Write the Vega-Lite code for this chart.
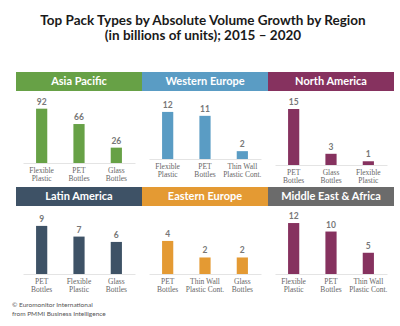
{
  "$schema": "https://vega.github.io/schema/vega-lite/v6.json",
  "padding": {"left": 12, "top": 13, "right": 10, "bottom": 4},
  "background": "white",
  "config": {
    "view": {"stroke": null},
    "axisX": {
      "title": null,
      "labelExpr": "split(datum.value, '|')",
      "labelAngle": 0,
      "ticks": false,
      "labelPadding": 3,
      "domainColor": "#e4e4e4",
      "domainWidth": 1,
      "labelFont": "Liberation Sans Narrow",
      "labelFontSize": 7.5,
      "labelColor": "#666666",
      "labelLineHeight": 8.5,
      "labelBaseline": "top"
    },
    "text": {"font": "Lato"}
  },
  "datasets": {
    "growth": [
      {"region": "Asia Pacific", "pack": "Flexible|Plastic", "value": 92},
      {"region": "Asia Pacific", "pack": "PET|Bottles", "value": 66},
      {"region": "Asia Pacific", "pack": "Glass|Bottles", "value": 26},
      {"region": "Western Europe", "pack": "Flexible|Plastic", "value": 12},
      {"region": "Western Europe", "pack": "PET|Bottles", "value": 11},
      {"region": "Western Europe", "pack": "Thin Wall|Plastic Cont.", "value": 2},
      {"region": "North America", "pack": "PET|Bottles", "value": 15},
      {"region": "North America", "pack": "Glass|Bottles", "value": 3},
      {"region": "North America", "pack": "Flexible|Plastic", "value": 1},
      {"region": "Latin America", "pack": "PET|Bottles", "value": 9},
      {"region": "Latin America", "pack": "Flexible|Plastic", "value": 7},
      {"region": "Latin America", "pack": "Glass|Bottles", "value": 6},
      {"region": "Eastern Europe", "pack": "PET|Bottles", "value": 4},
      {"region": "Eastern Europe", "pack": "Thin Wall|Plastic Cont.", "value": 2},
      {"region": "Eastern Europe", "pack": "Glass|Bottles", "value": 2},
      {"region": "Middle East & Africa", "pack": "Flexible|Plastic", "value": 12},
      {"region": "Middle East & Africa", "pack": "PET|Bottles", "value": 10},
      {"region": "Middle East & Africa", "pack": "Thin Wall|Plastic Cont.", "value": 5}
    ]
  },
  "title": {
    "text": ["Top Pack Types by Absolute Volume Growth by Region", "(in billions of units); 2015 – 2020"],
    "font": "Lato",
    "fontSize": 13.5,
    "fontWeight": "bold",
    "lineHeight": 15,
    "color": "#1a1a1a",
    "anchor": "middle",
    "offset": 30
  },
  "vconcat": [
    {
      "hconcat": [
        {
          "vconcat": [
            {"width": 126, "height": 19, "view": {"fill": "#67a146", "stroke": null}, "data": {"values": [{"region": "Asia Pacific"}]}, "mark": {"type": "text", "color": "white", "fontWeight": "bold", "fontSize": 11}, "encoding": {"text": {"field": "region"}}},
            {"width": 112, "height": 62, "data": {"name": "growth"}, "transform": [{"filter": "datum.region === 'Asia Pacific'"}],
             "encoding": {"x": {"field": "pack", "type": "nominal", "sort": null, "scale": {"paddingInner": 0.7, "paddingOuter": 0.35}}, "y": {"field": "value", "type": "quantitative", "axis": null, "scale": {"domain": [0, 105]}}},
             "layer": [{"mark": {"type": "bar", "color": "#67a146"}}, {"mark": {"type": "text", "dy": -2, "baseline": "bottom", "fontWeight": "bold", "fontSize": 8.5, "color": "#777777"}, "encoding": {"text": {"field": "value"}}}]}
          ],
          "spacing": 6, "center": true
        },
        {
          "vconcat": [
            {"width": 126, "height": 19, "view": {"fill": "#5a9cc4", "stroke": null}, "data": {"values": [{"region": "Western Europe"}]}, "mark": {"type": "text", "color": "white", "fontWeight": "bold", "fontSize": 11}, "encoding": {"text": {"field": "region"}}},
            {"width": 112, "height": 62, "data": {"name": "growth"}, "transform": [{"filter": "datum.region === 'Western Europe'"}],
             "encoding": {"x": {"field": "pack", "type": "nominal", "sort": null, "scale": {"paddingInner": 0.7, "paddingOuter": 0.35}}, "y": {"field": "value", "type": "quantitative", "axis": null, "scale": {"domain": [0, 15.8]}}},
             "layer": [{"mark": {"type": "bar", "color": "#5a9cc4"}}, {"mark": {"type": "text", "dy": -2, "baseline": "bottom", "fontWeight": "bold", "fontSize": 8.5, "color": "#777777"}, "encoding": {"text": {"field": "value"}}}]}
          ],
          "spacing": 6, "center": true
        },
        {
          "vconcat": [
            {"width": 126, "height": 19, "view": {"fill": "#86325f", "stroke": null}, "data": {"values": [{"region": "North America"}]}, "mark": {"type": "text", "color": "white", "fontWeight": "bold", "fontSize": 11}, "encoding": {"text": {"field": "region"}}},
            {"width": 112, "height": 62, "data": {"name": "growth"}, "transform": [{"filter": "datum.region === 'North America'"}],
             "encoding": {"x": {"field": "pack", "type": "nominal", "sort": null, "scale": {"paddingInner": 0.7, "paddingOuter": 0.35}}, "y": {"field": "value", "type": "quantitative", "axis": null, "scale": {"domain": [0, 16.6]}}},
             "layer": [{"mark": {"type": "bar", "color": "#86325f"}}, {"mark": {"type": "text", "dy": -2, "baseline": "bottom", "fontWeight": "bold", "fontSize": 8.5, "color": "#777777"}, "encoding": {"text": {"field": "value"}}}]}
          ],
          "spacing": 6, "center": true
        }
      ],
      "spacing": 0,
      "resolve": {"scale": {"x": "independent", "y": "independent"}}
    },
    {
      "hconcat": [
        {
          "vconcat": [
            {"width": 126, "height": 19, "view": {"fill": "#3e5266", "stroke": null}, "data": {"values": [{"region": "Latin America"}]}, "mark": {"type": "text", "color": "white", "fontWeight": "bold", "fontSize": 11}, "encoding": {"text": {"field": "region"}}},
            {"width": 112, "height": 62, "data": {"name": "growth"}, "transform": [{"filter": "datum.region === 'Latin America'"}],
             "encoding": {"x": {"field": "pack", "type": "nominal", "sort": null, "scale": {"paddingInner": 0.7, "paddingOuter": 0.35}}, "y": {"field": "value", "type": "quantitative", "axis": null, "scale": {"domain": [0, 11.6]}}},
             "layer": [{"mark": {"type": "bar", "color": "#3e5266"}}, {"mark": {"type": "text", "dy": -2, "baseline": "bottom", "fontWeight": "bold", "fontSize": 8.5, "color": "#777777"}, "encoding": {"text": {"field": "value"}}}]}
          ],
          "spacing": 6, "center": true
        },
        {
          "vconcat": [
            {"width": 126, "height": 19, "view": {"fill": "#e49a33", "stroke": null}, "data": {"values": [{"region": "Eastern Europe"}]}, "mark": {"type": "text", "color": "white", "fontWeight": "bold", "fontSize": 11}, "encoding": {"text": {"field": "region"}}},
            {"width": 112, "height": 62, "data": {"name": "growth"}, "transform": [{"filter": "datum.region === 'Eastern Europe'"}],
             "encoding": {"x": {"field": "pack", "type": "nominal", "sort": null, "scale": {"paddingInner": 0.7, "paddingOuter": 0.35}}, "y": {"field": "value", "type": "quantitative", "axis": null, "scale": {"domain": [0, 7.5]}}},
             "layer": [{"mark": {"type": "bar", "color": "#e49a33"}}, {"mark": {"type": "text", "dy": -2, "baseline": "bottom", "fontWeight": "bold", "fontSize": 8.5, "color": "#777777"}, "encoding": {"text": {"field": "value"}}}]}
          ],
          "spacing": 6, "center": true
        },
        {
          "vconcat": [
            {"width": 126, "height": 19, "view": {"fill": "#6b6b6b", "stroke": null}, "data": {"values": [{"region": "Middle East & Africa"}]}, "mark": {"type": "text", "color": "white", "fontWeight": "bold", "fontSize": 11}, "encoding": {"text": {"field": "region"}}},
            {"width": 112, "height": 62, "data": {"name": "growth"}, "transform": [{"filter": "datum.region === 'Middle East & Africa'"}],
             "encoding": {"x": {"field": "pack", "type": "nominal", "sort": null, "scale": {"paddingInner": 0.7, "paddingOuter": 0.35}}, "y": {"field": "value", "type": "quantitative", "axis": null, "scale": {"domain": [0, 14.6]}}},
             "layer": [{"mark": {"type": "bar", "color": "#86325f"}}, {"mark": {"type": "text", "dy": -2, "baseline": "bottom", "fontWeight": "bold", "fontSize": 8.5, "color": "#777777"}, "encoding": {"text": {"field": "value"}}}]}
          ],
          "spacing": 6, "center": true
        }
      ],
      "spacing": 0,
      "resolve": {"scale": {"x": "independent", "y": "independent"}},
      "title": {
        "text": ["© Euromonitor International", "\u00a0\u00a0\u00a0from PMMI Business Intelligence"],
        "orient": "bottom",
        "anchor": "start",
        "font": "Lato",
        "fontSize": 6.5,
        "fontWeight": "normal",
        "lineHeight": 8.5,
        "color": "#555555",
        "offset": 9,
        "dx": -4
      }
    }
  ],
  "spacing": 3,
  "resolve": {"scale": {"x": "independent", "y": "independent"}}
}
